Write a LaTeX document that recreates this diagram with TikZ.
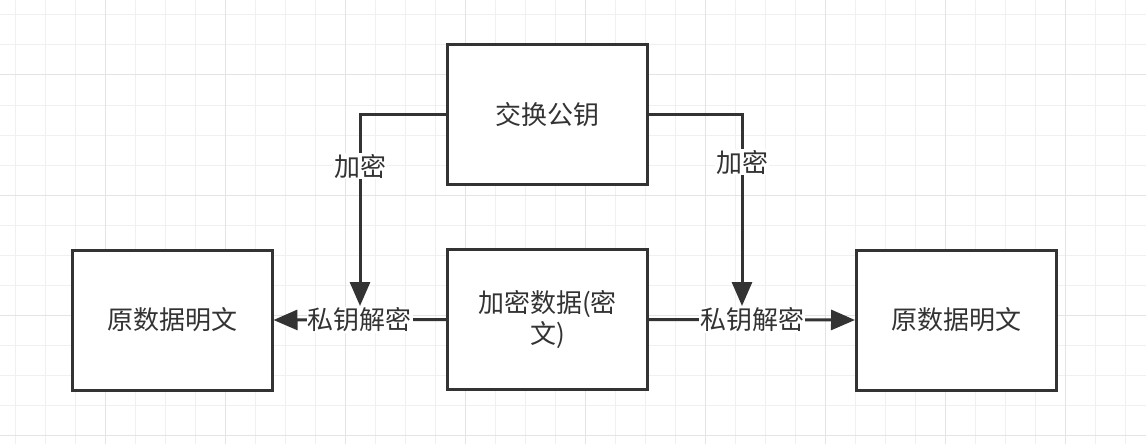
\documentclass[tikz,border=0pt]{standalone}
\usepackage{fontspec}
\setmainfont{Noto Sans CJK SC}
\usetikzlibrary{arrows.meta}
\definecolor{ink}{HTML}{333333}
\definecolor{gridminor}{HTML}{F0F0F0}
\definecolor{gridmajor}{HTML}{E4E4E4}
\tikzset{
  box/.style={draw=ink, line width=3pt, fill=white, minimum width=200pt, minimum height=140pt,
    inner sep=0pt, text=ink, align=center, font=\fontsize{26}{31}\selectfont},
  conn/.style={draw=ink, line width=3pt, -{Triangle[length=24pt,width=20pt]}},
  lbl/.style={fill=white, text=ink, inner sep=1pt, font=\fontsize{26}{31}\selectfont}
}
\begin{document}
\begin{tikzpicture}[x=1pt,y=-1pt]
\useasboundingbox (0,0) rectangle (1146,444);
\fill[white] (0,0) rectangle (1146,444);
% grid
\foreach \i in {0,...,37} {\draw[gridminor, line width=1pt] (15+30*\i,0) -- (15+30*\i,444);}
\foreach \j in {0,...,14} {\draw[gridminor, line width=1pt] (0,15+30*\j) -- (1146,15+30*\j);}
\foreach \i in {0,...,9} {\draw[gridmajor, line width=1pt] (-15+120*\i,0) -- (-15+120*\i,444);}
\foreach \j in {0,...,3} {\draw[gridmajor, line width=1pt] (0,75+120*\j) -- (1146,75+120*\j);}
% boxes
\node[box] (top) at (547.5,114.5) {交换公钥};
\node[box] (mid) at (547.5,319.5) {加密数据(密\\文)};
\node[box] (left) at (172,320) {原数据明文};
\node[box] (right) at (956.5,320) {原数据明文};
% vertical arrow ends
\coordinate (ltip) at (360,306);
\coordinate (rtip) at (742,306);
% connectors
\draw[conn] (top.west) -- (top.west -| ltip) -- node[lbl, pos=0.27] {加密} (ltip);
\draw[conn] (top.east) -- (top.east -| rtip) -- node[lbl, pos=0.25] {加密} (rtip);
\draw[conn] (mid.west) -- node[lbl] {私钥解密} (left.east);
\draw[conn] (mid.east) -- node[lbl] {私钥解密} (right.west);
\end{tikzpicture}
\end{document}
